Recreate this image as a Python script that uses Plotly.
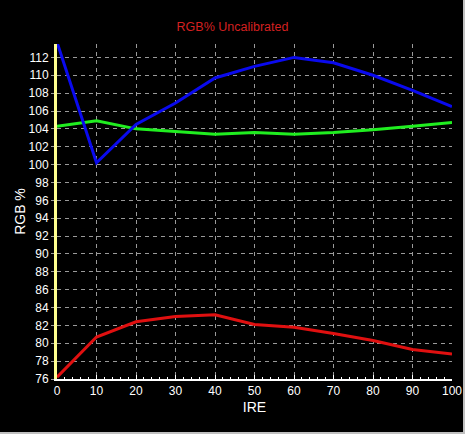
import plotly.graph_objects as go

ire = [0, 10, 20, 30, 40, 50, 60, 70, 80, 90, 100]
blue = [113.7, 100.2, 104.5, 106.9, 109.7, 111.0, 112.0, 111.4, 110.0, 108.3, 106.5]
green = [104.3, 104.9, 104.0, 103.7, 103.4, 103.6, 103.4, 103.6, 103.9, 104.3, 104.7]
red = [76.2, 80.7, 82.4, 83.0, 83.2, 82.1, 81.8, 81.1, 80.3, 79.3, 78.8]

series = [("Red", red, "#e01010"), ("Green", green, "#20ee20"), ("Blue", blue, "#0a0aee")]

fig = go.Figure()
for name, vals, col in series:
    fig.add_trace(go.Scatter(x=ire, y=vals, mode="lines", name=name,
                             line=dict(color=col, width=3)))

font = dict(family="Liberation Sans, Arial, sans-serif", size=12, color="white")
fig.update_layout(
    width=465, height=434,
    margin=dict(l=57, r=13, t=44, b=55),
    paper_bgcolor="black", plot_bgcolor="black",
    showlegend=False,
    font=font,
    title=dict(text="RGB% Uncalibrated", x=0.5, xanchor="center", y=1 - 27 / 434,
               yanchor="middle", font=dict(color="#d42020", size=12.5)),
    xaxis=dict(
        title=dict(text="IRE", standoff=5), range=[0, 100], dtick=10, tick0=0,
        showgrid=True, gridcolor="#9a9a9a", griddash="4px,4px", gridwidth=1,
        showline=True, linecolor="white", linewidth=2,
        ticks="inside", ticklen=4, tickcolor="white",
        minor=dict(dtick=2, ticks="inside", ticklen=2, tickcolor="white", showgrid=False),
        zeroline=False, fixedrange=True, automargin=False,
    ),
    yaxis=dict(
        title=dict(text="RGB %", standoff=0), range=[76, 113.5], dtick=2, tick0=76,
        showgrid=True, gridcolor="#9a9a9a", griddash="4px,4px", gridwidth=1,
        showline=True, linecolor="#ffff90", linewidth=3,
        ticks="outside", ticklen=3, tickcolor="#9a9a9a",
        zeroline=False, fixedrange=True, automargin=False,
    ),
)

# light frame on right and bottom edges of the window
fig.add_shape(type="line", xref="paper", yref="paper",
              x0=(464 - 57) / 395, x1=(464 - 57) / 395, y0=-55 / 335, y1=1 + 44 / 335,
              line=dict(color="#c0c0c0", width=2))
fig.add_shape(type="line", xref="paper", yref="paper",
              x0=-57 / 395, x1=1 + 13 / 395, y0=-(55 - 1) / 335, y1=-(55 - 1) / 335,
              line=dict(color="#c0c0c0", width=2))

fig.write_html("out.html", config={"displayModeBar": False},
               post_script="document.body.style.margin='0';")
